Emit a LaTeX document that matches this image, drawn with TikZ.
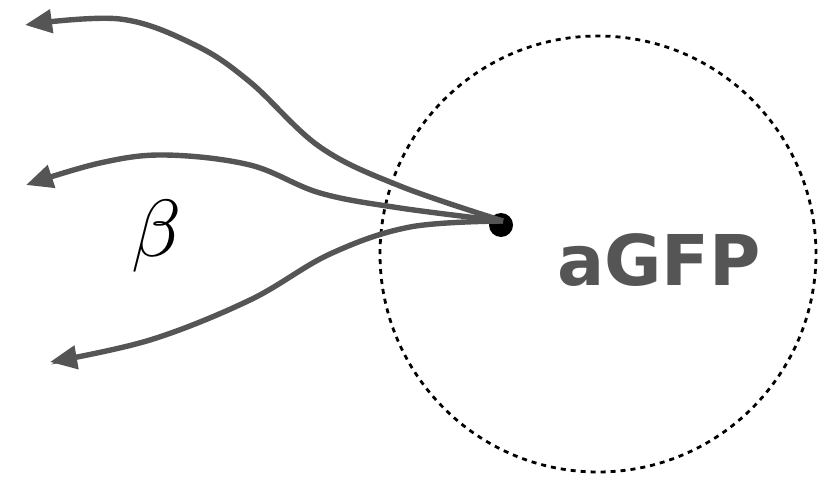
\documentclass[tikz,border=0pt]{standalone}
\usepackage{fontspec}
\newfontfamily\gfpfont{DejaVu Sans}
\usetikzlibrary{arrows.meta}
\definecolor{strokegray}{HTML}{555555}
\tikzset{
  ray/.style={draw=strokegray, line width=5.4pt, -{Triangle[length=27pt,width=23pt]}},
  zonering/.style={circle, draw=black, line width=2.8pt, dash pattern=on 5pt off 5pt, minimum size=436pt, inner sep=0pt},
  srcdot/.style={circle, fill=black, minimum size=24pt, inner sep=0pt},
}
\begin{document}
\begin{tikzpicture}[x=1pt,y=-1pt]
\useasboundingbox (0,0) rectangle (821,478);

% dotted boundary of the region
\node[zonering] (zone) at (598,254) {};

% source point
\node[srcdot] (src) at (501,225) {};
\coordinate (hub) at (503,221);

% free ends of the rays
\coordinate (t1) at (25,25);
\coordinate (t2) at (26,185);
\coordinate (t3) at (50,362);

\draw[ray] plot[smooth, tension=0.6] coordinates {(hub) (400,186) (320,147) (250,82) (195,45) (120,19) (t1)};
\draw[ray] plot[smooth, tension=0.6] coordinates {(hub) (400,208) (320,193) (250,165) (165,155) (100,163) (t2)};
\draw[ray] plot[smooth, tension=0.6] coordinates {(hub) (410,227) (330,254) (250,300) (150,340) (t3)};

% labels
\node[anchor=base, inner sep=0pt] (beta) at (157,256) {\scalebox{8.1}{$\beta$}};
\node[anchor=base, inner sep=0pt, text=strokegray] (name) at (659,285) {\gfpfont\bfseries\fontsize{70}{70}\selectfont aGFP};
\end{tikzpicture}
\end{document}
